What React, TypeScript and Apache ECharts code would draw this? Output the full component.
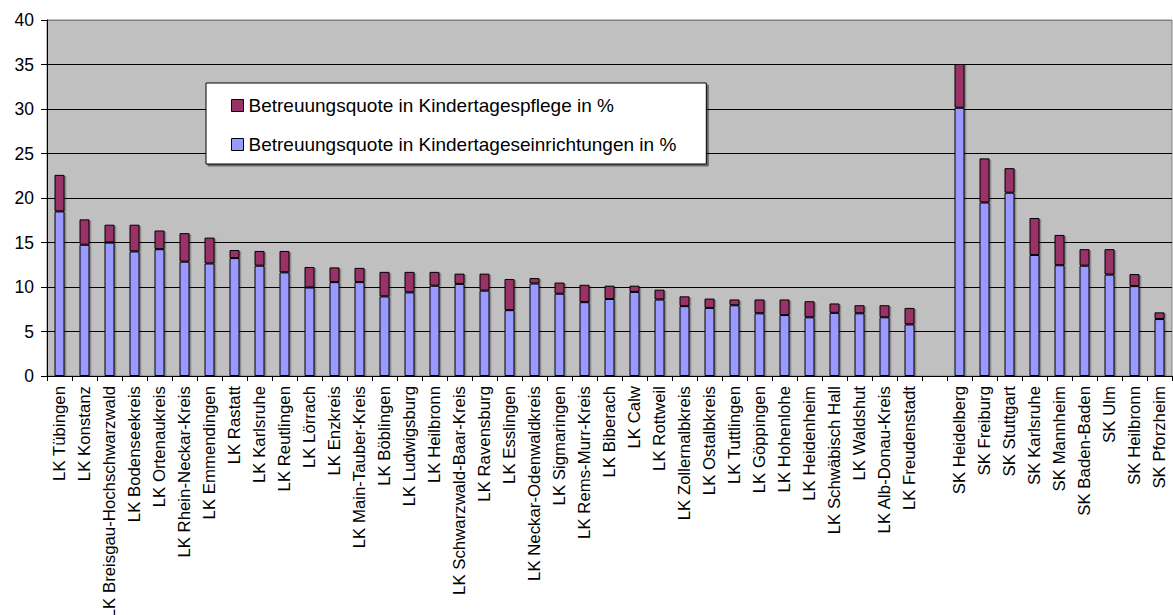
import React, { useEffect, useRef } from "react";
import * as echarts from "echarts";

const categories = [
  "LK Tübingen", "LK Konstanz", "LK Breisgau-Hochschwarzwald", "LK Bodenseekreis", "LK Ortenaukreis",
  "LK Rhein-Neckar-Kreis", "LK Emmendingen", "LK Rastatt", "LK Karlsruhe", "LK Reutlingen",
  "LK Lörrach", "LK Enzkreis", "LK Main-Tauber-Kreis", "LK Böblingen", "LK Ludwigsburg",
  "LK Heilbronn", "LK Schwarzwald-Baar-Kreis", "LK Ravensburg", "LK Esslingen", "LK Neckar-Odenwaldkreis",
  "LK Sigmaringen", "LK Rems-Murr-Kreis", "LK Biberach", "LK Calw", "LK Rottweil",
  "LK Zollernalbkreis", "LK Ostalbkreis", "LK Tuttlingen", "LK Göppingen", "LK Hohenlohe",
  "LK Heidenheim", "LK Schwäbisch Hall", "LK Waldshut", "LK Alb-Donau-Kreis", "LK Freudenstadt",
  "",
  "SK Heidelberg", "SK Freiburg", "SK Stuttgart", "SK Karlsruhe", "SK Mannheim",
  "SK Baden-Baden", "SK Ulm", "SK Heilbronn", "SK Pforzheim",
];

const einrichtungen = [
  18.5, 14.75, 15.0, 14.0, 14.25,
  12.85, 12.65, 13.25, 12.4, 11.65,
  9.95, 10.55, 10.55, 8.95, 9.4,
  10.15, 10.35, 9.6, 7.4, 10.4,
  9.25, 8.3, 8.65, 9.45, 8.6,
  7.85, 7.65, 7.95, 7.05, 6.85,
  6.6, 7.1, 7.05, 6.6, 5.8,
  null,
  30.15, 19.5, 20.6, 13.6, 12.45,
  12.4, 11.4, 10.1, 6.4,
];

const pflege = [
  4.1, 2.85, 2.0, 3.0, 2.1,
  3.2, 2.9, 0.9, 1.65, 2.4,
  2.3, 1.65, 1.6, 2.75, 2.3,
  1.55, 1.15, 1.9, 3.5, 0.6,
  1.25, 1.95, 1.5, 0.7, 1.1,
  1.1, 1.05, 0.65, 1.55, 1.75,
  1.8, 1.05, 0.9, 1.35, 1.85,
  null,
  4.9, 4.95, 2.75, 4.15, 3.4,
  1.85, 2.85, 1.35, 0.75,
];

const seriesNames = [
  "Betreuungsquote in Kindertagespflege in %",
  "Betreuungsquote in Kindertageseinrichtungen in %",
];

const yTicks = { min: 0, max: 40, interval: 5 };

const FONT = "'Liberation Sans', Arial, sans-serif";

export default function App() {
  const ref = useRef<HTMLDivElement>(null);
  useEffect(() => {
    document.body.style.margin = "0";
    const chart = echarts.init(ref.current!, null, { renderer: "svg" });
    chart.setOption({
      animation: false,
      backgroundColor: "#ffffff",
      textStyle: { fontFamily: FONT },
      grid: {
        left: 47,
        right: 1,
        top: 20,
        bottom: 239,
        containLabel: false,
        outerBoundsMode: "none",
        show: true,
        backgroundColor: "#C0C0C0",
        borderColor: "#808080",
        borderWidth: 1,
      },
      legend: {
        data: seriesNames,
        orient: "vertical",
        left: 206,
        top: 83,
        padding: [13, 30, 10, 25],
        itemGap: 20,
        itemWidth: 12,
        itemHeight: 12,
        icon: "rect",
        backgroundColor: "#ffffff",
        borderColor: "#000000",
        borderWidth: 1,
        shadowColor: "rgba(0,0,0,0.45)",
        shadowOffsetX: 2,
        shadowOffsetY: 2,
        shadowBlur: 0,
        textStyle: { fontSize: 19, color: "#000", fontFamily: FONT },
        itemStyle: { borderColor: "#000", borderWidth: 1 },
      },
      xAxis: {
        type: "category",
        data: categories,
        axisLine: { show: true, lineStyle: { color: "#000", width: 1 } },
        axisTick: { show: true, length: 5, interval: 0, lineStyle: { color: "#000" } },
        axisLabel: {
          interval: 0,
          rotate: 90,
          fontSize: 16.8,
          color: "#000",
          fontFamily: FONT,
          margin: 10,
        },
      },
      yAxis: {
        type: "value",
        min: yTicks.min,
        max: yTicks.max,
        interval: yTicks.interval,
        axisLine: { show: true, lineStyle: { color: "#000", width: 1 } },
        axisTick: { show: true, length: 6, lineStyle: { color: "#000" } },
        axisLabel: { fontSize: 17.5, color: "#000", fontFamily: FONT, margin: 13 },
        splitLine: {
          show: true,
          lineStyle: {
            color: ["#000", "#000", "#000", "#000", "#000", "#000", "#000", "#000", "#808080"],
            width: 1,
          },
        },
      },
      series: [
        {
          name: seriesNames[1],
          type: "bar",
          stack: "total",
          data: einrichtungen,
          barWidth: 10,
          itemStyle: {
            color: "#9999FF",
            borderColor: "#000",
            borderWidth: 1,
            shadowColor: "rgba(0,0,0,0.35)",
            shadowOffsetX: 1.5,
            shadowOffsetY: 1,
          },
        },
        {
          name: seriesNames[0],
          type: "bar",
          stack: "total",
          data: pflege,
          barWidth: 10,
          itemStyle: {
            color: "#993366",
            borderColor: "#000",
            borderWidth: 1,
            shadowColor: "rgba(0,0,0,0.35)",
            shadowOffsetX: 1.5,
            shadowOffsetY: 1,
          },
        },
      ],
    });
    return () => chart.dispose();
  }, []);
  return <div ref={ref} style={{ width: 1173, height: 615 }} />;
}
